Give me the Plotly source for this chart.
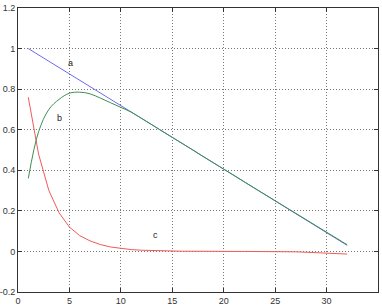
import plotly.graph_objects as go

x_vals = list(range(1, 33))
a_vals = [1.000, 0.969, 0.937, 0.906, 0.875, 0.844, 0.812, 0.781, 0.750, 0.718,
          0.687, 0.656, 0.625, 0.593, 0.562, 0.531, 0.500, 0.468, 0.437, 0.406,
          0.375, 0.343, 0.312, 0.281, 0.250, 0.218, 0.187, 0.156, 0.125, 0.093,
          0.062, 0.030]
b_vals = [0.360, 0.590, 0.700, 0.750, 0.780, 0.785, 0.777, 0.756, 0.733, 0.710,
          0.687, 0.656, 0.625, 0.593, 0.562, 0.531, 0.500, 0.468, 0.437, 0.406,
          0.375, 0.343, 0.312, 0.281, 0.250, 0.219, 0.188, 0.157, 0.126, 0.095,
          0.064, 0.033]
c_vals = [0.760, 0.480, 0.300, 0.190, 0.120, 0.078, 0.052, 0.034, 0.022, 0.014,
          0.009, 0.006, 0.004, 0.003, 0.002, 0.001, 0.001, 0.000, 0.000, 0.000,
          0.000, 0.000, 0.000, 0.000, -0.001, -0.001, -0.002, -0.004, -0.006, -0.008,
          -0.010, -0.013]

labels = ["a", "b", "c"]
label_x = [5.1, 4.0, 13.4]
label_y = [0.93, 0.66, 0.08]

x_ticks = [0, 5, 10, 15, 20, 25, 30, 35]
y_ticks = [-0.2, 0, 0.2, 0.4, 0.6, 0.8, 1, 1.2]
y_tick_text = ["-0.2", "0", "0.2", "0.4", "0.6", "0.8", "1", "1.2"]

fig = go.Figure()
fig.add_trace(go.Scatter(x=x_vals, y=a_vals, mode="lines",
                         line=dict(color="#6b6bf0", width=1), name="a"))
fig.add_trace(go.Scatter(x=x_vals, y=c_vals, mode="lines",
                         line=dict(color="#f05a5a", width=1), name="c"))
fig.add_trace(go.Scatter(x=x_vals, y=b_vals, mode="lines", line_shape="spline",
                         line=dict(color="#3f8f4f", width=1), name="b"))

for t, lx, ly in zip(labels, label_x, label_y):
    fig.add_annotation(x=lx, y=ly, text=t, showarrow=False,
                       font=dict(family="Liberation Sans, Arial", size=9, color="#222"))

axis_common = dict(showline=True, linecolor="#333", linewidth=1, mirror="ticks",
                   ticks="inside", ticklen=4, tickcolor="#333",
                   showgrid=True, gridcolor="#777", griddash="1px,2px", gridwidth=1,
                   zeroline=False, automargin=False,
                   tickfont=dict(family="Liberation Sans, Arial", size=9, color="#333"))

fig.update_xaxes(range=[0, 35], tickvals=x_ticks, **axis_common)
fig.update_yaxes(range=[-0.2, 1.2], tickvals=y_ticks, ticktext=y_tick_text, **axis_common)

fig.update_layout(width=382, height=306, showlegend=False,
                  margin=dict(l=18, r=4, t=8, b=14),
                  plot_bgcolor="white", paper_bgcolor="white")

fig.write_html("out.html")
